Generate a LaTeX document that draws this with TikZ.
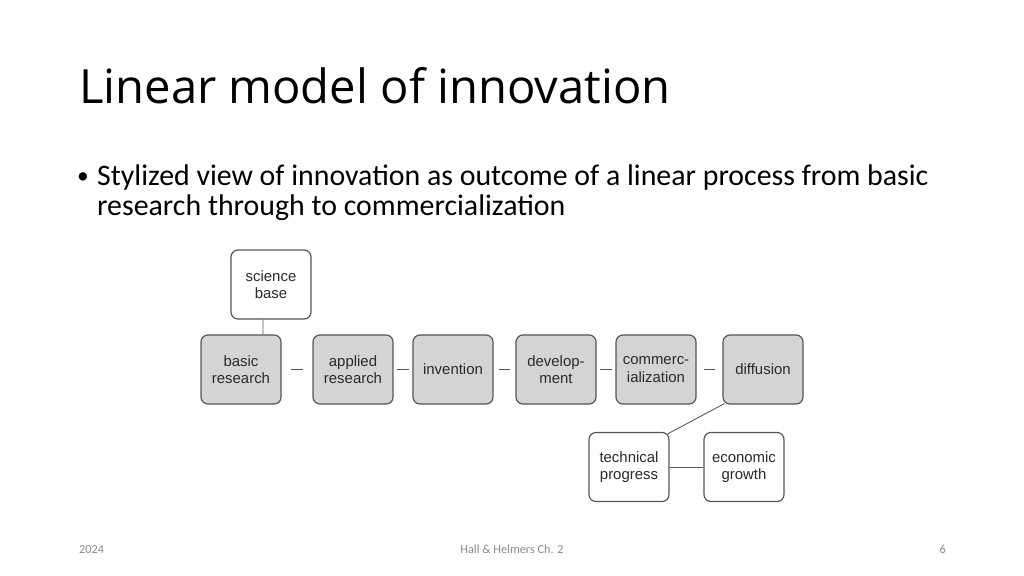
\documentclass[tikz,border=0pt]{standalone}
\usepackage{fontspec}
\setmainfont{Carlito}
\newfontfamily\titlefont{Open Sans}
\newfontfamily\boxfont{Liberation Sans}
\definecolor{boxgray}{HTML}{D4D4D4}
\definecolor{boxline}{HTML}{555555}
\definecolor{boxtext}{HTML}{2A2A2A}
\definecolor{footgray}{HTML}{8B8B8B}
\begin{document}
\begin{tikzpicture}[x=0.9375pt,y=-0.9375pt,
  box/.style={draw=boxline, line width=1.1pt, rounded corners=6.5pt,
    minimum width=75pt, minimum height=64.7pt, inner sep=0pt,
    align=center, text=boxtext, font=\boxfont\fontsize{14}{16.5}\selectfont},
  greybox/.style={box, fill=boxgray},
  whitebox/.style={box, fill=white},
  link/.style={draw=boxline, line width=0.8pt},
  gapline/.style={link, shorten <=#1, shorten >=#1}]
\useasboundingbox (0,0) rectangle (1024,575);
\fill[fill=white] (0,0) rectangle (1024,575);

\node[anchor=base west, inner sep=0pt, font=\titlefont\fontsize{44.2}{52}\selectfont] (title) at (79,103) {Linear model of innovation};

\node[anchor=base west, inner sep=0pt, font=\fontsize{22}{26}\selectfont] (bul) at (77,183) {\textbullet};
\node[anchor=base west, inner sep=0pt, font=\fontsize{28}{32}\selectfont] (l1) at (97,185) {Stylized view of innovation as outcome of a linear process from basic};
\node[anchor=base west, inner sep=0pt, font=\fontsize{28}{32}\selectfont] (l2) at (97,215) {research through to commercialization};

\node[whitebox] (sci) at (271,284.5) {science\\base};
\node[greybox] (basic) at (241,369.5) {basic\\research};
\node[greybox] (appl) at (353,369.5) {applied\\research};
\node[greybox] (inv) at (453,369.5) {invention};
\node[greybox] (dev) at (556,369.5) {develop-\\ment};
\node[greybox] (com) at (656,369.5) {commerc-\\ialization};
\node[greybox] (dif) at (763,369.5) {diffusion};
\node[whitebox] (tech) at (629,467) {technical\\progress};
\node[whitebox] (eco) at (744,467) {economic\\growth};

\draw[link] ([xshift=-7.5pt]sci.south) -- ([xshift=20.6pt]basic.north);
\draw[gapline=8.9pt] (basic.east) -- (appl.west);
\draw[gapline=3.3pt] (appl.east) -- (inv.west);
\draw[gapline=4.7pt] (inv.east) -- (dev.west);
\draw[gapline=3.3pt] (dev.east) -- (com.west);
\draw[gapline=6.6pt] (com.east) -- (dif.west);
\draw[link] ([shift={(2,-1)}]dif.south west) -- ([shift={(-2,2)}]tech.north east);
\draw[link] (tech.east) -- (eco.west);

\node[anchor=base west, inner sep=0pt, text=footgray, font=\fontsize{11.5}{13}\selectfont] (year) at (79,553) {2024};
\node[anchor=base, inner sep=0pt, text=footgray, font=\fontsize{11.5}{13}\selectfont] (src) at (512,553) {Hall \& Helmers Ch. 2};
\node[anchor=base east, inner sep=0pt, text=footgray, font=\fontsize{11.5}{13}\selectfont] (page) at (946,553) {6};
\end{tikzpicture}
\end{document}
